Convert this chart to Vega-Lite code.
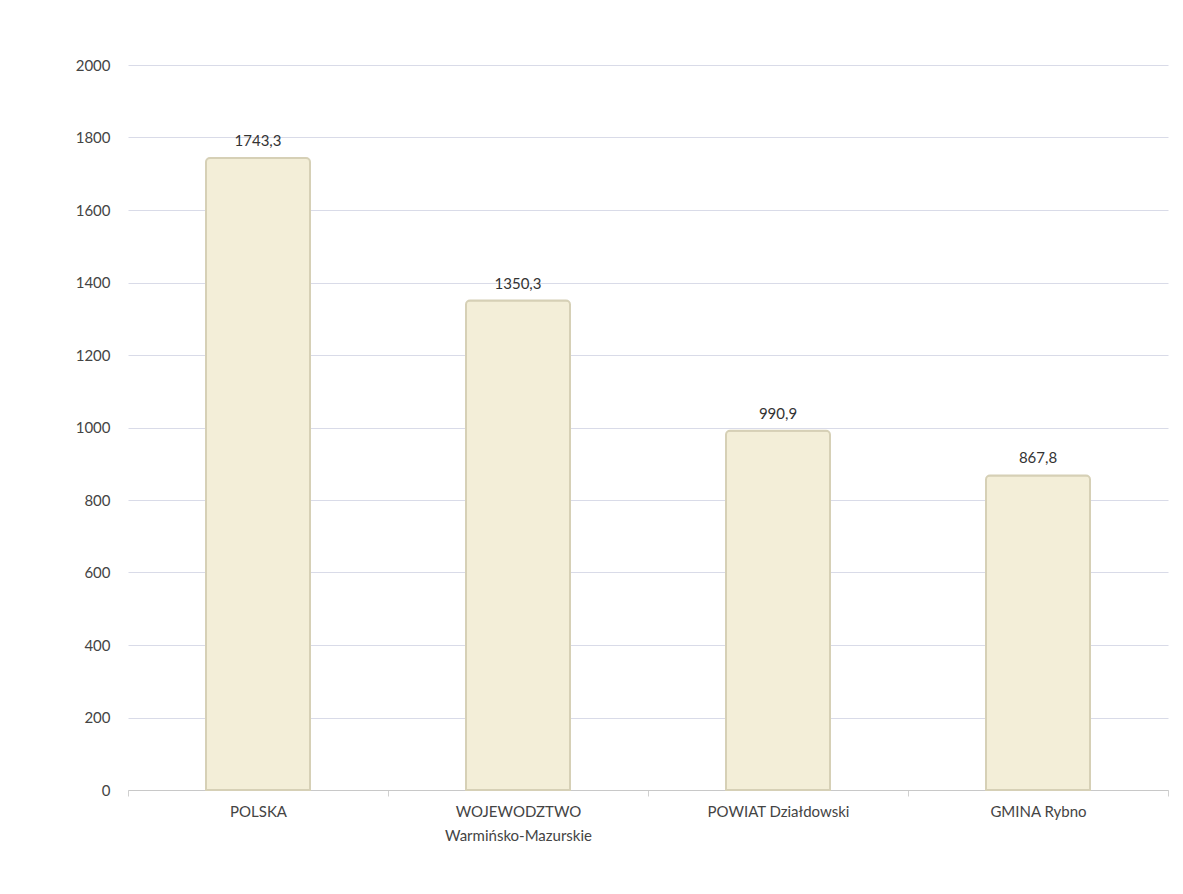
{
  "$schema": "https://vega.github.io/schema/vega-lite/v6.json",
  "width": 1040,
  "height": 725,
  "autosize": {"type": "none"},
  "padding": {"left": 128, "top": 65, "right": 15, "bottom": 104},
  "background": "white",
  "config": {"view": {"stroke": null}, "font": "Lato"},
  "data": {"values": [
    {"region": "POLSKA", "value": 1743.3, "label": "1743,3"},
    {"region": "WOJEWODZTWO|Warmińsko-Mazurskie", "value": 1350.3, "label": "1350,3"},
    {"region": "POWIAT Działdowski", "value": 990.9, "label": "990,9"},
    {"region": "GMINA Rybno", "value": 867.8, "label": "867,8"}
  ]},
  "encoding": {
    "x": {"field": "region", "type": "nominal", "sort": null,
      "scale": {"paddingInner": 0, "paddingOuter": 0},
      "axis": {"title": null, "labelAngle": 0, "labelExpr": "split(datum.label, '|')",
        "labelFontSize": 15, "labelColor": "#444", "labelPadding": 8, "labelLineHeight": 24,
        "domainColor": "#c8c8c8", "tickColor": "#d0d0d0", "tickBand": "extent", "tickSize": 6, "grid": false}},
    "y": {"field": "value", "type": "quantitative",
      "scale": {"domain": [0, 2000]},
      "axis": {"title": null, "values": [0,200,400,600,800,1000,1200,1400,1600,1800,2000], "format": "d",
        "labelFontSize": 15, "labelColor": "#444", "labelPadding": 18, "ticks": false, "domain": false,
        "gridColor": "#d9dbe8", "gridWidth": 1}}
  },
  "layer": [
    {"mark": {"type": "bar", "width": {"band": 0.4}, "fill": "#f3eed8", "stroke": "#d6d0b6", "strokeWidth": 2, "cornerRadiusTopLeft": 4, "cornerRadiusTopRight": 4}},
    {"mark": {"type": "text", "dy": -17, "fontSize": 15, "color": "#333"},
     "encoding": {"text": {"field": "label"}}}
  ]
}
